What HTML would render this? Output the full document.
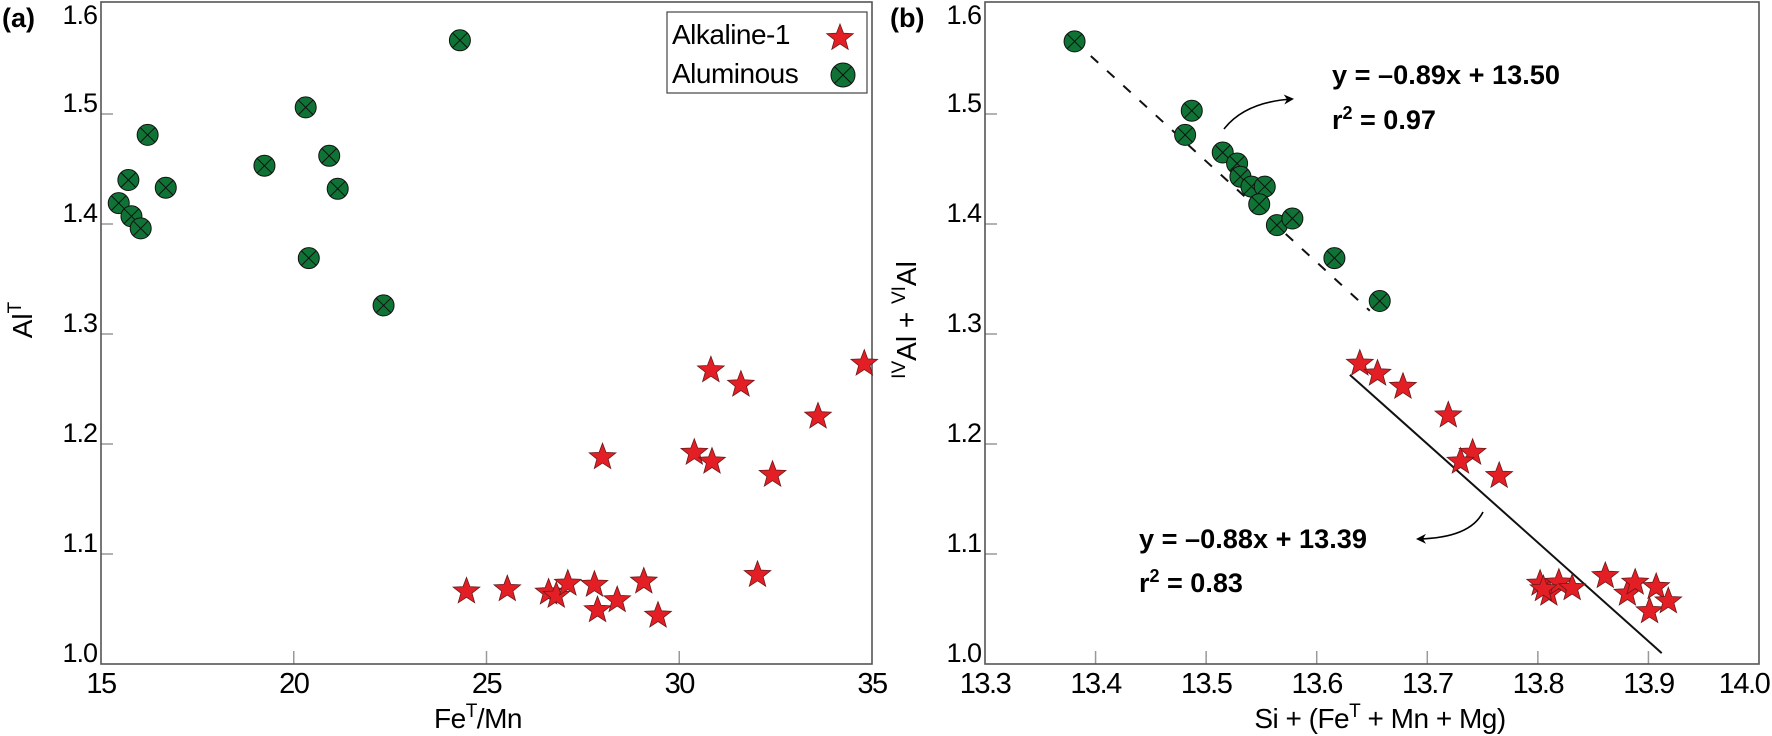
<!DOCTYPE html>
<html><head><meta charset="utf-8"><style>
body{margin:0;background:#fff;}
svg{display:block;font-family:"Liberation Sans",Arial,sans-serif;}
</style></head><body>
<svg id="chart" width="1772" height="736" viewBox="0 0 1772 736" xmlns="http://www.w3.org/2000/svg">
<defs>
<marker id="ah" markerWidth="10" markerHeight="10" refX="8" refY="5" orient="auto" markerUnits="userSpaceOnUse"><path d="M0,0 L10,5 L0,10 L3,5 Z" fill="#000"/></marker>
</defs>
<g id="pa"></g>
<g id="pb"></g>
</svg>
<script>
// Panel a data
const aGreenX=[15.46,15.71,16.21,15.79,16.03,16.68,19.24,20.31,20.92,21.14,20.39,22.33,24.31];
const aGreenY=[1.419,1.440,1.481,1.407,1.396,1.433,1.453,1.506,1.462,1.432,1.369,1.326,1.567];
const aRedX=[24.48,25.54,26.61,26.81,27.11,27.80,27.88,28.39,29.08,29.45,28.01,30.39,30.85,30.82,31.60,32.42,32.03,33.6,34.8];
const aRedY=[1.066,1.068,1.065,1.062,1.073,1.072,1.049,1.058,1.075,1.044,1.188,1.192,1.184,1.267,1.254,1.172,1.081,1.225,1.273];
const aXTicks=[15,20,25,30,35];
const yTicks=[1.0,1.1,1.2,1.3,1.4,1.5,1.6];
// Panel b data
const bGreenX=[13.381,13.487,13.481,13.515,13.528,13.531,13.541,13.553,13.548,13.564,13.578,13.616,13.657];
const bGreenY=[1.566,1.503,1.481,1.465,1.455,1.443,1.434,1.434,1.418,1.399,1.405,1.369,1.330];
const bRedX=[13.639,13.655,13.678,13.719,13.741,13.730,13.765,13.802,13.810,13.819,13.831,13.861,13.881,13.888,13.907,13.901,13.918,13.805];
const bRedY=[1.273,1.264,1.252,1.226,1.192,1.184,1.171,1.073,1.064,1.074,1.069,1.080,1.064,1.074,1.070,1.048,1.057,1.068];
const bXTicks=[13.3,13.4,13.5,13.6,13.7,13.8,13.9,14.0];
const fitGreenX=[13.381,13.648];
const fitRedX=[13.63,13.912];
const fitGreen=[-0.918,13.850]; // slope, intercept in plot coords
const fitRed=[-0.897,13.489];

const NS="http://www.w3.org/2000/svg";
function mk(tag,attrs,parent,txt){const e=document.createElementNS(NS,tag);for(const k in attrs)e.setAttribute(k,attrs[k]);if(txt!==undefined)e.textContent=txt;parent.appendChild(e);return e;}
function starPts(cx,cy,R){const r=R*0.42;let p=[];for(let i=0;i<10;i++){const a=-Math.PI/2+i*Math.PI/5;const rr=i%2?r:R;p.push((cx+rr*Math.cos(a)).toFixed(1)+","+(cy+rr*Math.sin(a)).toFixed(1));}return p.join(" ");}
function star(g,cx,cy){const s=mk('polygon',{points:starPts(cx,cy,14),fill:'#e31e24',stroke:'#6b1a1a','stroke-width':0.8},g);

}
function circ(g,cx,cy,r){r=r||10.5;const c=mk('g',{},g);


mk('circle',{cx:cx,cy:cy,r:r,fill:'#0f7336',stroke:'#111','stroke-width':1},c);const d=r*0.7;
mk('line',{x1:cx-d,y1:cy-d,x2:cx+d,y2:cy+d,stroke:'#111','stroke-width':1},c);
mk('line',{x1:cx-d,y1:cy+d,x2:cx+d,y2:cy-d,stroke:'#111','stroke-width':1},c);}

function axes(g,L,R,T,B,xs,ys,xt,xfmt){
  for(const v of yTicks){const y=ys(v);
    if(v>1.0&&v<1.6){const t=mk('line',{x1:L,y1:y,x2:L+12,y2:y,stroke:'#999','stroke-width':1.5},g);}
    const by=Math.max(y-2,24);
    const l=mk('text',{x:L-4,y:by,'text-anchor':'end','font-size':27,'letter-spacing':-1},g,v.toFixed(1));
    
    }
  for(const v of xt){const x=xs(v);
    if(Math.abs(x-L)>3&&Math.abs(x-R)>3){const t=mk('line',{x1:x,y1:B,x2:x,y2:B-13,stroke:'#999','stroke-width':1.5},g);}
    const cx=Math.min(x,1744);
    const l=mk('text',{x:cx,y:B+29,'text-anchor':'middle','font-size':29,'letter-spacing':-1.5},g,xfmt(v));
    
    }
  const f=mk('rect',{x:L,y:T,width:R-L,height:B-T,fill:'none',stroke:'#555','stroke-width':1.6},g);
  
  
}

// Panel a
const ga=document.getElementById('pa');
const aL=101,aR=872,aT=2,aB=664;
const axs=v=>aL+(v-15)/20*(aR-aL);
const ys=v=>aB-(v-1.0)*1100;
axes(ga,aL,aR,aT,aB,axs,ys,aXTicks,v=>String(v));
for(let i=0;i<aGreenX.length;i++)circ(ga,axs(aGreenX[i]),ys(aGreenY[i]));
for(let i=0;i<aRedX.length;i++)star(ga,axs(aRedX[i]),ys(aRedY[i]));
// legend
const lg=mk('g',{},ga);


mk('rect',{x:667,y:12,width:200,height:81,fill:'#fff',stroke:'#444','stroke-width':1.2},lg);
const le1=mk('text',{x:672,y:44,'font-size':28,'letter-spacing':-0.5},lg,'Alkaline-1');


const le2=mk('text',{x:672,y:83,'font-size':28,'letter-spacing':-0.5},lg,'Aluminous');


star(lg,840,38);circ(lg,843,75,12);
const ta=mk('text',{x:2,y:27,'font-size':27,'font-weight':'bold'},ga,'(a)');


const xa=mk('text',{x:478,y:728,'text-anchor':'middle','font-size':28,'letter-spacing':-0.5},ga);


xa.innerHTML='Fe<tspan dy="-11" font-size="19">T</tspan><tspan dy="11">/Mn</tspan>';
const ya=mk('text',{x:0,y:0,'text-anchor':'middle','font-size':28,transform:'translate(32,320) rotate(-90)'},ga);


ya.innerHTML='Al<tspan dy="-11" font-size="19">T</tspan>';

// Panel b
const gb=document.getElementById('pb');
const bL=985,bR=1759,bT=2,bB=664;
const bxs=v=>bL+(v-13.3)/0.7*(bR-bL);
axes(gb,bL,bR,bT,bB,bxs,ys,bXTicks,v=>v.toFixed(1));
// fit lines
const dl=mk('line',{x1:bxs(fitGreenX[0]),y1:ys(fitGreen[0]*fitGreenX[0]+fitGreen[1]),x2:bxs(fitGreenX[1]),y2:ys(fitGreen[0]*fitGreenX[1]+fitGreen[1]),stroke:'#111','stroke-width':2,'stroke-dasharray':'10,12'},gb);


const sl=mk('line',{x1:bxs(fitRedX[0]),y1:ys(fitRed[0]*fitRedX[0]+fitRed[1]),x2:bxs(fitRedX[1]),y2:ys(fitRed[0]*fitRedX[1]+fitRed[1]),stroke:'#111','stroke-width':2},gb);


for(let i=0;i<bGreenX.length;i++)circ(gb,bxs(bGreenX[i]),ys(bGreenY[i]));
for(let i=0;i<bRedX.length;i++)star(gb,bxs(bRedX[i]),ys(bRedY[i]));
// annotations
const a1=mk('path',{d:'M1224,129 Q1245,102 1292,99',fill:'none',stroke:'#000','stroke-width':1.6,'marker-end':'url(#ah)'},gb);


const a2=mk('path',{d:'M1483,512 Q1470,538 1418,539',fill:'none',stroke:'#000','stroke-width':1.6,'marker-end':'url(#ah)'},gb);


const e1=mk('text',{x:1332,y:84,'font-size':27,'font-weight':'bold',textLength:228,lengthAdjust:'spacingAndGlyphs'},gb,'y = –0.89x + 13.50');


const r1=mk('text',{x:1332,y:129,'font-size':27,'font-weight':'bold'},gb);


r1.innerHTML='r<tspan dy="-10" font-size="18">2</tspan><tspan dy="10"> = 0.97</tspan>';
const e2=mk('text',{x:1139,y:548,'font-size':27,'font-weight':'bold',textLength:228,lengthAdjust:'spacingAndGlyphs'},gb,'y = –0.88x + 13.39');


const r2=mk('text',{x:1139,y:592,'font-size':27,'font-weight':'bold'},gb);


r2.innerHTML='r<tspan dy="-10" font-size="18">2</tspan><tspan dy="10"> = 0.83</tspan>';
const tb=mk('text',{x:890,y:27,'font-size':27,'font-weight':'bold'},gb,'(b)');


const xb=mk('text',{x:1380,y:728,'text-anchor':'middle','font-size':28,'letter-spacing':-0.5},gb);


xb.innerHTML='Si + (Fe<tspan dy="-11" font-size="19">T</tspan><tspan dy="11"> + Mn + Mg)</tspan>';
const yb=mk('text',{x:0,y:0,'text-anchor':'middle','font-size':28,transform:'translate(916,320) rotate(-90)'},gb);


yb.innerHTML='<tspan dy="-11" font-size="19">IV</tspan><tspan dy="11">Al + </tspan><tspan dy="-11" font-size="19">VI</tspan><tspan dy="11">Al</tspan>';
</script>
</body></html>
